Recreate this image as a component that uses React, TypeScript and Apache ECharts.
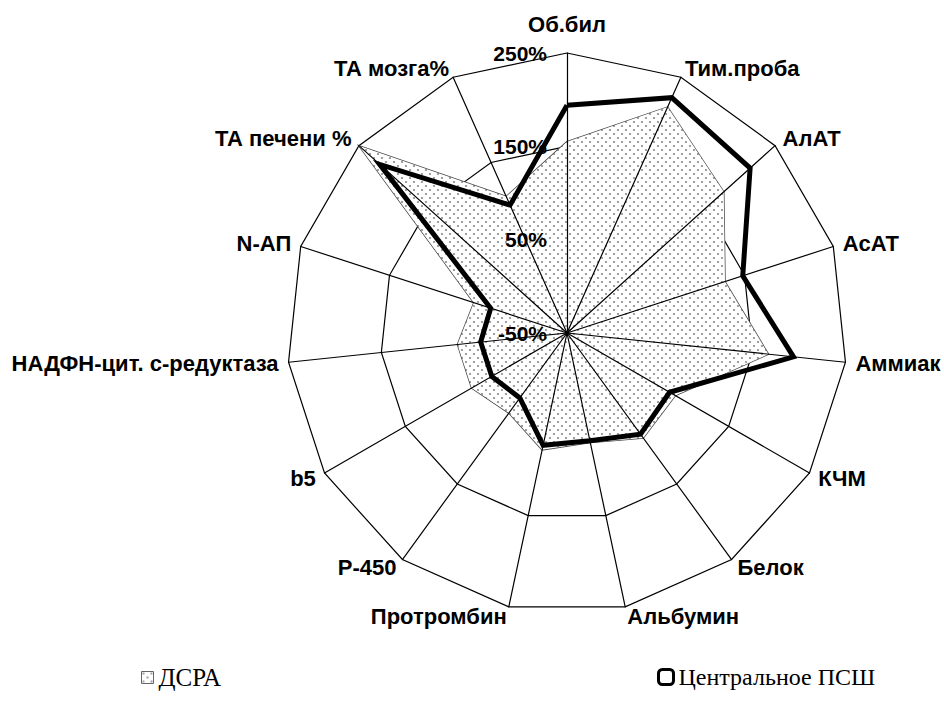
import React, { useEffect, useRef } from 'react';
import * as echarts from 'echarts';

// ---- data ----
const indicators = [
  'Об.бил',
  'Тим.проба',
  'АлАТ',
  'АсАТ',
  'Аммиак',
  'КЧМ',
  'Белок',
  'Альбумин',
  'Протромбин',
  'Р-450',
  'b5',
  'НАДФН-цит. с-редуктаза',
  'N-АП',
  'ТА печени %',
  'ТА мозга%',
];
const dsraValues = [155, 215, 176, 128, 167, 84, 89, 70, 78, 56, 68, 68, 55, 250, 110];
const pshValues = [194, 226, 214, 148, 194, 77, 84, 68, 73, 36, 43, 43, 36, 220, 100];
const seriesNames = ['ДСРА', 'Центральное ПСШ'];
const axisMin = -50;
const axisMax = 250;
const axisStep = 100;

// ECharts places radar indicators counter-clockwise; the reference runs clockwise.
const clockwiseOrder = indicators.map((_, i) => (i === 0 ? 0 : indicators.length - i));
const reorder = <T,>(arr: T[]) => clockwiseOrder.map((i) => arr[i]);

const sansFont = '"Liberation Sans", Arial, sans-serif';
const serifFont = '"Liberation Serif", "Times New Roman", serif';

const dotSvg =
  "<svg xmlns='http://www.w3.org/2000/svg' width='8' height='8'>" +
  "<rect width='8' height='8' fill='white'/>" +
  "<circle cx='2' cy='2' r='1.1' fill='#8a8a8a'/>" +
  "<circle cx='6' cy='6' r='1.1' fill='#8a8a8a'/>" +
  '</svg>';
const dotUrl = 'data:image/svg+xml;charset=utf-8,' + encodeURIComponent(dotSvg);
const dotPattern: any = { image: dotUrl, repeat: 'repeat', imageWidth: 8, imageHeight: 8 };

export default function App() {
  const ref = useRef<HTMLDivElement>(null);

  useEffect(() => {
    if (!ref.current) return;
    const chart = echarts.init(ref.current, undefined, { renderer: 'svg' });
    const center = [567, 333];
    const radius = 280;
    const indicatorDefs = reorder(indicators).map((name) => ({ name, min: axisMin, max: axisMax }));
    const tickStyle = {
      color: '#000',
      fontFamily: sansFont,
      fontWeight: 'bold' as const,
      fontSize: 21,
    };

    chart.setOption({
      animation: false,
      backgroundColor: '#fff',
      radar: [
        {
          center,
          radius,
          startAngle: 90,
          shape: 'polygon',
          splitNumber: (axisMax - axisMin) / axisStep,
          indicator: indicatorDefs,
          nameGap: 10,
          axisName: {
            ...tickStyle,
            fontSize: 22,
            formatter: (name: string) => (name === indicators[0] ? name + '\n{gap| }' : name),
            rich: { gap: { lineHeight: 8, fontSize: 2 } },
          },
          splitLine: { lineStyle: { color: '#000', width: 1.2 } },
          splitArea: { show: false },
          axisLine: { show: false },
          axisTick: { show: false },
          axisLabel: { show: false },
          z: 0,
        },
        {
          center,
          radius,
          startAngle: 90,
          shape: 'polygon',
          splitNumber: (axisMax - axisMin) / axisStep,
          indicator: indicatorDefs,
          axisName: { show: false },
          splitLine: { show: false },
          splitArea: { show: false },
          axisLine: { lineStyle: { color: '#000', width: 1.2 } },
          axisTick: { show: false },
          axisLabel: { show: false },
          z: 3,
        },
      ],
      polar: { center, radius },
      angleAxis: { show: false, startAngle: 90, min: 0, max: 360 },
      radiusAxis: {
        min: axisMin,
        max: axisMax,
        interval: axisStep,
        axisLine: { show: false },
        axisTick: { show: false },
        splitLine: { show: false },
        axisLabel: { ...tickStyle, margin: 20, formatter: '{value}%' },
        z: 6,
      },
      legend: [
        {
          left: 141,
          top: 665,
          padding: 0,
          itemWidth: 12,
          itemHeight: 12,
          textStyle: { color: '#000', fontFamily: serifFont, fontSize: 25 },
          data: [
            {
              name: seriesNames[0],
              icon: 'rect',
              itemStyle: { color: dotPattern, borderColor: '#666', borderWidth: 1 },
            },
          ],
        },
        {
          left: 657,
          top: 665,
          padding: 0,
          itemWidth: 15,
          itemHeight: 15,
          textStyle: { color: '#000', fontFamily: serifFont, fontSize: 24 },
          data: [
            {
              name: seriesNames[1],
              icon: 'roundRect',
              itemStyle: { color: '#fff', borderColor: '#000', borderWidth: 3 },
            },
          ],
        },
      ],
      series: [
        {
          type: 'radar',
          radarIndex: 0,
          name: seriesNames[0],
          symbol: 'none',
          z: 2,
          itemStyle: { color: '#555' },
          lineStyle: { color: '#4a4a4a', width: 1.5, join: 'miter' },
          areaStyle: { color: dotPattern, opacity: 1 },
          data: [{ name: seriesNames[0], value: reorder(dsraValues) }],
        },
        {
          type: 'radar',
          radarIndex: 0,
          name: seriesNames[1],
          symbol: 'none',
          z: 4,
          itemStyle: { color: '#000' },
          lineStyle: { color: '#000', width: 5, join: 'miter' },
          data: [{ name: seriesNames[1], value: reorder(pshValues) }],
        },
      ],
    });

    return () => chart.dispose();
  }, []);

  return (
    <div
      ref={ref}
      style={{ position: 'absolute', left: 0, top: 0, width: 944, height: 709, background: '#fff' }}
    />
  );
}
